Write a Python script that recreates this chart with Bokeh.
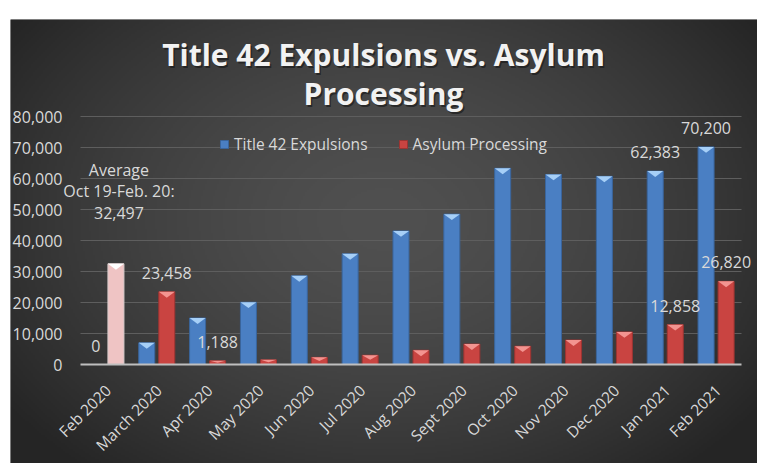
from bokeh.plotting import figure
from bokeh.models import (ColumnDataSource, Range1d, Label, Legend, LegendItem)
from bokeh.core.properties import value
from bokeh.embed import file_html
from bokeh.resources import INLINE
import numpy as np
import math

# ---------------- data ----------------
months = ["Feb 2020", "March 2020", "Apr 2020", "May 2020", "Jun 2020", "Jul 2020",
          "Aug 2020", "Sept 2020", "Oct 2020", "Nov 2020", "Dec 2020", "Jan 2021", "Feb 2021"]
title42 = [0, 7000, 15000, 20100, 28600, 35700, 43100, 48500, 63300, 61300, 60700, 62383, 70200]
asylum = [32497, 23458, 1188, 1500, 2300, 3000, 4600, 6600, 5900, 7900, 10500, 12858, 26820]
title42_labeled = ["Feb 2020", "Jan 2021", "Feb 2021"]
asylum_labeled = ["March 2020", "Apr 2020", "Jan 2021", "Feb 2021"]
average_note = ["Average", "Oct 19-Feb. 20:"]
y_ticks = [0, 10000, 20000, 30000, 40000, 50000, 60000, 70000, 80000]
title_lines = ["Title 42 Expulsions vs. Asylum", "Processing"]

# ---------------- styling ----------------
TXT = "#d9d9d9"
FONT = "Open Sans"
FS = "16px"
BLUE, BLUE_TOP, BLUE_LINE = "#4a7fc3", "#a6cff7", "#3a659c"
RED, RED_TOP, RED_LINE = "#c94441", "#f39490", "#9c3432"
AVG, AVG_TOP, AVG_LINE = "#efc4c4", "#ffffff", "#d8cccc"
OFF, W = 0.197, 0.315

n = len(months)
xc = [i + 0.5 for i in range(n)]
xb = [x - OFF for x in xc]
xr = [x + OFF for x in xc]
red_fill = [AVG] + [RED] * (n - 1)
red_top = [AVG_TOP] + [RED_TOP] * (n - 1)
red_line = [AVG_LINE] + [RED_LINE] * (n - 1)


def tri(xs, vals):
    pxs, pys = [], []
    for x, v in zip(xs, vals):
        h = min(1900, 0.5 * v)
        pxs.append([x - W / 2, x + W / 2, x])
        pys.append([v, v, v - h])
    return pxs, pys


# the frame is the whole dark panel, so no text is clipped
PX = 661 / n            # px per category
PY = 248 / 80000        # px per unit
x0, x1 = -70 / PX, n + 16 / PX
y0, y1 = -99 / PY, 345 / PY
p = figure(width=747, height=444, output_backend="svg", toolbar_location=None,
           x_range=Range1d(x0, x1), y_range=Range1d(y0, y1),
           min_border_left=0, min_border_right=0, min_border_top=0, min_border_bottom=0,
           background_fill_color="#3b3b3b", border_fill_color="#3b3b3b", outline_line_color=None)
p.margin = (19, 14, 9, 10)
p.xaxis.visible = False
p.yaxis.visible = False
p.xgrid.grid_line_color = None
p.ygrid.grid_line_color = None

# radial-gradient panel background
GW, GH = 374, 222
gx, gy = np.meshgrid(np.linspace(0, 1, GW), np.linspace(0, 1, GH))
r = np.sqrt(((gx - 0.5) / 0.62) ** 2 + ((gy - 0.55) / 0.75) ** 2)
shade = (0x50 - (0x50 - 0x25) * np.clip(r, 0, 1) ** 1.6).astype(np.uint32)
img = (255 << 24) | (shade << 16) | (shade << 8) | shade
p.image_rgba(image=[img.astype(np.uint32)], x=x0, y=y0, dw=x1 - x0, dh=y1 - y0)

# gridlines, y tick labels and base line
grid_t = [t for t in y_ticks if t > 0]
p.segment(x0=[0] * len(grid_t), x1=[n] * len(grid_t), y0=grid_t, y1=grid_t,
          line_color="#5e5e5e", line_width=1)
p.text(x=[-18 / PX] * len(y_ticks), y=y_ticks, text=[f"{t:,}" for t in y_ticks],
       text_align="right", text_baseline="middle", text_font=value(FONT),
       text_font_size=FS, text_color=TXT)

src_b = ColumnDataSource(dict(x=xb, top=title42))
src_r = ColumnDataSource(dict(x=xr, top=asylum, fill=red_fill, line=red_line))
rb = p.vbar(x="x", top="top", width=W, source=src_b, fill_color=BLUE, line_color=BLUE_LINE, line_width=1)
rr = p.vbar(x="x", top="top", width=W, source=src_r, fill_color="fill", line_color="line", line_width=1)

tbx, tby = tri(xb, title42)
p.patches(tbx, tby, fill_color=BLUE_TOP, line_color=None)
trx, try_ = tri(xr, asylum)
p.patches(xs=trx, ys=try_, fill_color=red_top, line_color=None)

p.segment(x0=[0], x1=[n], y0=[y_ticks[0]], y1=[y_ticks[0]], line_color="#bfbfbf", line_width=2)

# category labels, rotated
p.text(x=xc, y=[y_ticks[0]] * n, text=months, angle=math.pi / 4,
       text_align="right", text_baseline="middle", x_offset=2, y_offset=23,
       text_font=value(FONT), text_font_size="15.5px", text_color=TXT)

# data labels
lb_x = [xb[months.index(m)] for m in title42_labeled]
lb_y = [title42[months.index(m)] for m in title42_labeled]
lr_x = [xr[months.index(m)] for m in asylum_labeled]
lr_y = [asylum[months.index(m)] for m in asylum_labeled]
p.text(x=lb_x + lr_x, y=lb_y + lr_y, text=[f"{v:,}" for v in lb_y + lr_y],
       text_align="center", text_baseline="middle", y_offset=-19,
       text_font=value(FONT), text_font_size=FS, text_color=TXT)
p.text(x=[xr[0]], y=[asylum[0]], text=["\n".join(average_note + [f"{asylum[0]:,}"])],
       text_align="center", text_baseline="bottom", y_offset=-40, x_offset=3,
       text_line_height=0.98, text_font=value(FONT), text_font_size=FS, text_color=TXT)

# legend
legend = Legend(items=[LegendItem(label="Title 42 Expulsions", renderers=[rb]),
                       LegendItem(label="Asylum Processing", renderers=[rr], index=1)],
                orientation="horizontal", location=(209, 308),
                background_fill_alpha=0, border_line_color=None, padding=0, margin=0,
                spacing=30, glyph_width=10, glyph_height=10, label_standoff=5,
                label_text_font=FONT, label_text_font_size="15.5px", label_text_color=TXT)
p.add_layout(legend, "center")

# title
tx = (383 - 80) / PX
for line, yb in zip(title_lines, [(364 - 54) / PY, (364 - 93) / PY]):
    p.add_layout(Label(x=tx, y=yb, text=line, text_align="center", text_baseline="alphabetic",
                       x_offset=1.5, y_offset=-2, text_font=FONT, text_font_size="30px",
                       text_font_style="bold", text_color="#151515", text_alpha=0.6))
    p.add_layout(Label(x=tx, y=yb, text=line, text_align="center", text_baseline="alphabetic",
                       text_font=FONT, text_font_size="30px", text_font_style="bold",
                       text_color="#f2f2f2"))

open("out.html", "w").write(file_html(p, INLINE))
